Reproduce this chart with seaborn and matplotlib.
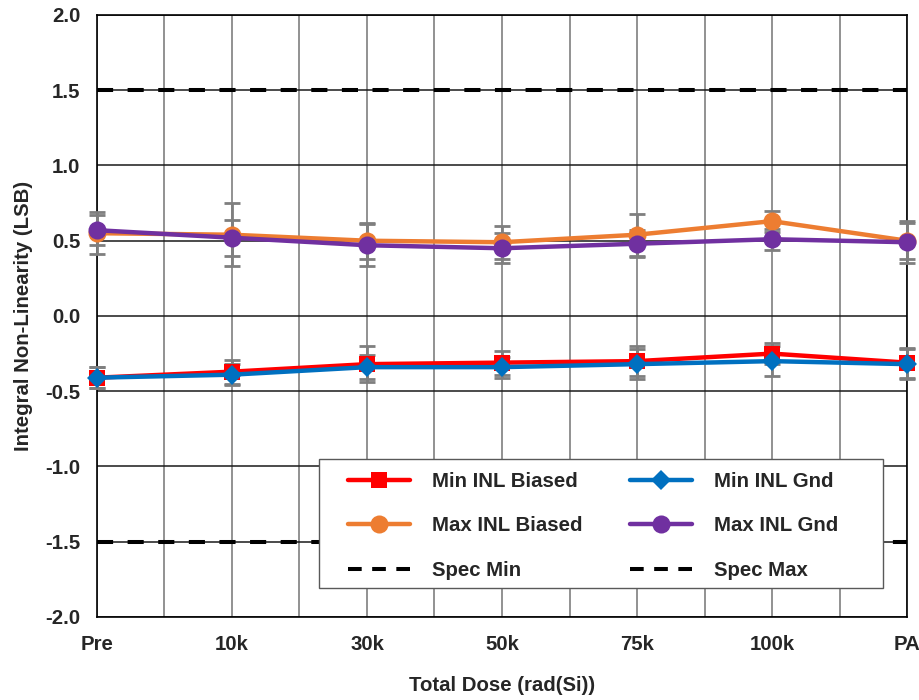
import numpy as np
import pandas as pd
import seaborn as sns
from matplotlib import pyplot as plt
from matplotlib.lines import Line2D
from matplotlib.patches import Rectangle
from matplotlib.ticker import MultipleLocator

doses = ["Pre", "10k", "30k", "50k", "75k", "100k", "PA"]

min_biased = [-0.41, -0.37, -0.32, -0.31, -0.30, -0.25, -0.31]
min_gnd = [-0.41, -0.39, -0.34, -0.34, -0.32, -0.30, -0.32]
max_biased = [0.55, 0.54, 0.50, 0.49, 0.54, 0.63, 0.50]
max_gnd = [0.57, 0.52, 0.47, 0.45, 0.48, 0.51, 0.49]

min_biased_err = [0.07, 0.08, 0.12, 0.08, 0.10, 0.07, 0.10]
min_gnd_err = [0.07, 0.07, 0.08, 0.07, 0.10, 0.10, 0.10]
max_biased_err = [0.14, 0.21, 0.12, 0.11, 0.14, 0.07, 0.12]
max_gnd_err = [0.10, 0.12, 0.14, 0.10, 0.09, 0.07, 0.14]

spec_min = -1.5
spec_max = 1.5

series = [
    ("Min INL Biased", min_biased, min_biased_err, "#FF0000", "s", 12),
    ("Min INL Gnd", min_gnd, min_gnd_err, "#0070C0", "D", 10),
    ("Max INL Biased", max_biased, max_biased_err, "#ED7D31", "o", 13),
    ("Max INL Gnd", max_gnd, max_gnd_err, "#7030A0", "o", 13),
]

FONT_SIZE = 14.7


def main() -> None:
    sns.set_theme(style="white")
    plt.rcParams["font.family"] = ["Liberation Sans", "DejaVu Sans"]
    plt.rcParams["font.weight"] = "bold"

    fig = plt.figure(figsize=(9.2, 7.0), dpi=100)
    ax = fig.add_axes([0.1054, 0.1186, 0.8805, 0.86])

    xpos = np.arange(len(doses))
    for i, (name, values, errs, color, marker, size) in enumerate(series):
        ax.errorbar(xpos, values, yerr=errs, fmt="none", ecolor="#7F7F7F",
                    elinewidth=2, capsize=6, capthick=2, zorder=3 + i * 0.1,
                    clip_on=False)
        frame = pd.DataFrame({"x": xpos, "y": values})
        sns.lineplot(data=frame, x="x", y="y", color=color, marker=marker,
                     markersize=size, markeredgewidth=0, linewidth=3.2,
                     ax=ax, zorder=4 + i * 0.1, label=name, clip_on=False)

    dash = (0, (4, 3.6))
    ax.axhline(spec_min, color="black", linestyle=dash, linewidth=2.9, zorder=2.5)
    ax.axhline(spec_max, color="black", linestyle=dash, linewidth=2.9, zorder=2.5)

    ax.set_xlim(0, len(doses) - 1)
    ax.set_ylim(-2.0, 2.0)
    ax.set_xticks(xpos)
    ax.set_xticklabels(doses)
    ax.xaxis.set_minor_locator(MultipleLocator(0.5))
    yticks = np.arange(-2.0, 2.01, 0.5)
    ax.set_yticks(yticks)
    ax.set_yticklabels([f"{v:.1f}" for v in yticks])

    ax.grid(axis="x", which="both", color="#7F7F7F", linewidth=1.2)
    ax.grid(axis="y", which="major", color="#1A1A1A", linewidth=1.1)
    ax.set_axisbelow(True)
    for spine in ax.spines.values():
        spine.set_color("black")
        spine.set_linewidth(1.2)

    ax.tick_params(axis="both", which="both", length=0, labelsize=FONT_SIZE)
    ax.tick_params(axis="x", pad=13)
    ax.tick_params(axis="y", pad=12)
    ax.set_xlabel("Total Dose (rad(Si))", fontsize=FONT_SIZE, fontweight="bold", labelpad=16)
    ax.set_ylabel("Integral Non-Linearity (LSB)", fontsize=FONT_SIZE, fontweight="bold", labelpad=9)

    # legend box drawn as a patch so its padding can follow the reference
    box = Rectangle((0.274, 0.048), 0.696, 0.214, transform=ax.transAxes,
                    facecolor="white", edgecolor="#595959", linewidth=1.0, zorder=9)
    ax.add_patch(box)

    h, lab = ax.get_legend_handles_labels()
    lookup = dict(zip(lab, h))
    legend_dash = (0, (3.4, 2.6))
    lookup["Spec Min"] = Line2D([], [], color="black", linestyle=legend_dash, linewidth=2.9)
    lookup["Spec Max"] = Line2D([], [], color="black", linestyle=legend_dash, linewidth=2.9)
    col_order = ["Min INL Biased", "Max INL Biased", "Spec Min",
                 "Min INL Gnd", "Max INL Gnd", "Spec Max"]
    leg = ax.legend([lookup[k] for k in col_order], col_order, ncol=2,
                    loc="upper left", bbox_to_anchor=(0.310, 0.241),
                    fontsize=FONT_SIZE, handlelength=3.04, handletextpad=1.08,
                    columnspacing=2.3, labelspacing=1.25, borderpad=0,
                    borderaxespad=0, frameon=False)
    leg.set_zorder(10)

    fig.savefig("out.png", dpi=100)
    plt.close(fig)


if __name__ == "__main__":
    main()
